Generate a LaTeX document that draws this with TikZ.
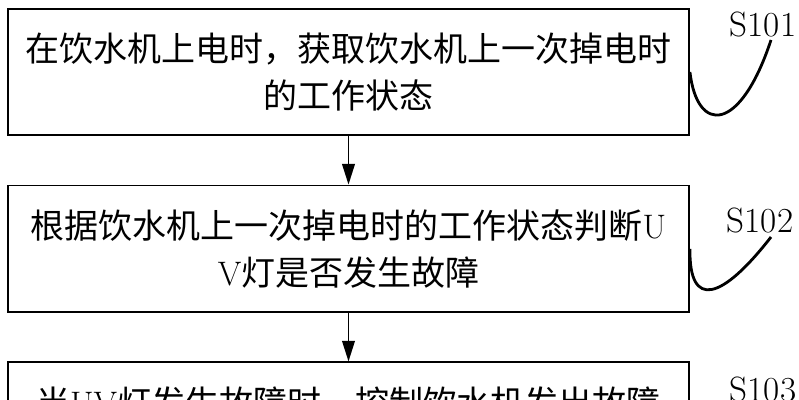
\documentclass[tikz,border=0pt]{standalone}
\usepackage{fontspec}
\newfontfamily\cjk{Noto Sans CJK SC}
\usetikzlibrary{positioning,arrows.meta}

\tikzset{
  stepbox/.style={draw, line width=1.6pt, minimum width=20.43cm, minimum height=3.8cm,
    align=center, font=\cjk\fontsize{29}{40}\selectfont},
  flow/.style={-{Triangle[length=0.62cm,width=0.38cm]}, line width=1.5pt},
  tag/.style={font=\fontsize{30}{32}\selectfont, inner sep=0pt},
  hook/.style={line width=2.4pt}
}

\begin{document}
\begin{tikzpicture}[x=0.03cm, y=-0.03cm, node distance=1.45cm]
    \useasboundingbox (0,0) rectangle (799,400);
    \clip (0,0) rectangle (799,400);

    % steps
    \node[stepbox] (box1) at (348.5,72) {在饮水机上电时，获取饮水机上一次掉电时\\的工作状态};
    \node[stepbox, below=of box1] (box2) {根据饮水机上一次掉电时的工作状态判断{\rmfamily U}\\{\rmfamily V}灯是否发生故障};
    \node[stepbox, below=of box2] (box3) {当{\rmfamily UV}灯发生故障时，控制饮水机发出故障\\\phantom{故障}};

    \draw[flow] (box1) -- (box2);
    \draw[flow] (box2) -- (box3);

    % step numbers
    \node[tag] (s101) at (763,25) {S101};
    \node[tag] (s102) at (760,220) {S102};
    \node[tag] (s103) at (763,389) {S103};

    \coordinate (e1) at (771,40);
    \coordinate (e2) at (771,237);
    \draw[hook] (box1.east) .. controls (697,134) and (740,134) .. (e1);
    \draw[hook] (box2.east) .. controls (689,310) and (722,300) .. (e2);
\end{tikzpicture}
\end{document}
